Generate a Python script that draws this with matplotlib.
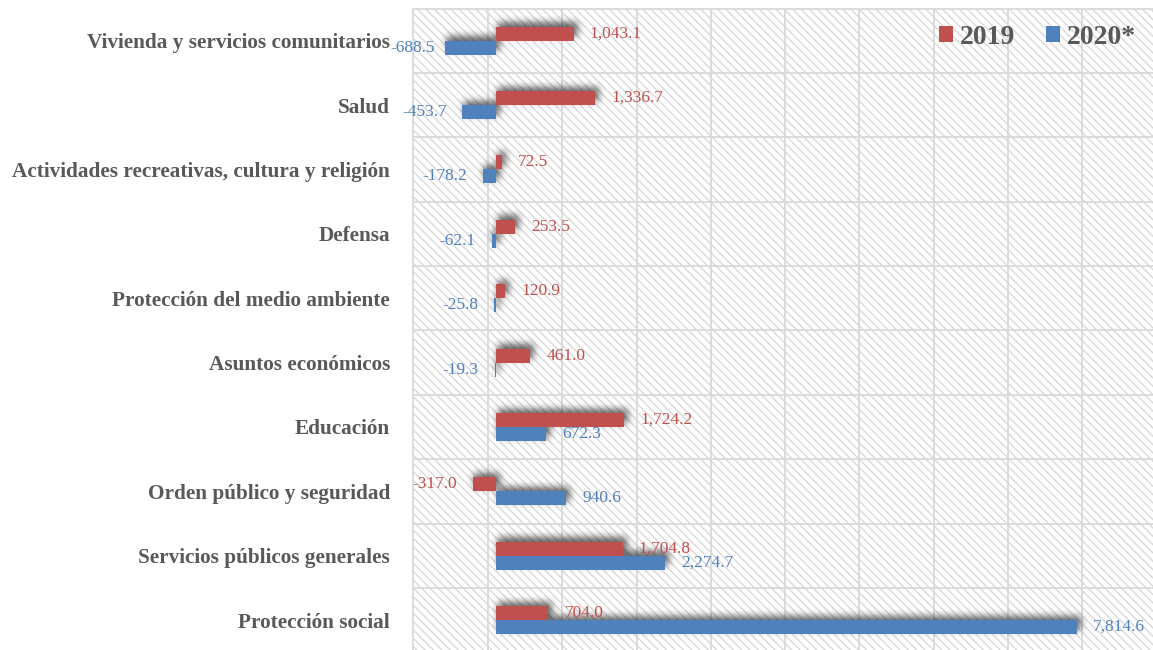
import matplotlib
matplotlib.use("Agg")
import matplotlib.pyplot as plt
from matplotlib.patches import Rectangle
import numpy as np

categories = ["Vivienda y servicios comunitarios", "Salud",
              "Actividades recreativas, cultura y religión", "Defensa",
              "Protección del medio ambiente", "Asuntos económicos",
              "Educación", "Orden público y seguridad",
              "Servicios públicos generales", "Protección social"]
v2019 = [1043.1, 1336.7, 72.5, 253.5, 120.9, 461.0, 1724.2, -317.0, 1704.8, 704.0]
v2020 = [-688.5, -453.7, -178.2, -62.1, -25.8, -19.3, 672.3, 940.6, 2274.7, 7814.6]
series_names = ["2019", "2020*"]

RED = "#C0504D"
BLUE = "#4F81BD"
GRID = "#D9D9D9"
TXT = "#595959"

plt.rcParams['font.family'] = ['Liberation Serif', 'DejaVu Serif']
plt.rcParams['hatch.linewidth'] = 1.0

W, H = 1153, 650
fig = plt.figure(figsize=(W / 100, H / 100), dpi=100)
left_px, right_px, top_px, bot_px = 413, 1165, 8.5, 652.3
ax = fig.add_axes([left_px / W, 1 - bot_px / H, (right_px - left_px) / W, (bot_px - top_px) / H])

xmin, xmax = -1120, 9003
n = len(categories)
ax.set_xlim(xmin, xmax)
ax.set_ylim(-0.5, n - 0.5)

# hatched background
bg = Rectangle((0, 0), 1, 1, transform=ax.transAxes, facecolor="white",
               edgecolor="#D9D9D9", hatch="\\\\\\\\", linewidth=0, zorder=0)
ax.add_patch(bg)

# grid
for k in range(0, 10):
    ax.axvline(-110 + 1000 * k, color=GRID, lw=1.3, zorder=1)
for b in np.arange(0.5, n - 0.5, 1.0):
    ax.axhline(b, color=GRID, lw=1.3, zorder=1)

for s in ["right", "bottom"]:
    ax.spines[s].set_visible(False)
for s in ["top", "left"]:
    ax.spines[s].set_color(GRID)
    ax.spines[s].set_linewidth(1.3)

ypos = np.arange(n)[::-1]  # top category first
bh = 0.218

# soft blurred shadow image (pixel grid of the axes)
AW = int(round(right_px - left_px))
AH = int(round(bot_px - top_px))
px_x = (xmax - xmin) / AW
px_y = n / AH
mask = np.zeros((AH, AW))

def add_shadow(v, yc):
    lo, hi = min(0, v), max(0, v)
    x0 = (lo - xmin) / px_x + 1.5
    x1 = (hi - xmin) / px_x + 4.0
    ytop = ((n - 0.5) - (yc + bh / 2)) / px_y - 4.0
    ybot = ((n - 0.5) - (yc - bh / 2)) / px_y - 4.0
    xi0, xi1 = int(round(x0)), int(round(x1))
    yi0, yi1 = int(round(ytop)), int(round(ybot))
    if xi1 <= xi0:
        xi1 = xi0 + 1
    mask[max(yi0, 0):max(yi1, 0), max(xi0, 0):max(xi1, 0)] = 1.0

for i in range(n):
    add_shadow(v2019[i], ypos[i] + bh / 2)
    add_shadow(v2020[i], ypos[i] - bh / 2)

sig = 3.6
r = np.arange(-12, 13)
kern = np.exp(-r ** 2 / (2 * sig ** 2))
kern /= kern.sum()
blur = np.apply_along_axis(lambda m: np.convolve(m, kern, mode="same"), 1, mask)
blur = np.apply_along_axis(lambda m: np.convolve(m, kern, mode="same"), 0, blur)
rgba = np.zeros((AH, AW, 4))
rgba[..., 3] = np.clip(blur * 0.6, 0, 1)
ax.imshow(rgba, extent=(xmin, xmax, -0.5, n - 0.5), origin="upper",
          aspect="auto", interpolation="bilinear", zorder=2)

b1 = ax.barh(ypos + bh / 2, v2019, height=bh, color=RED, zorder=3, label=series_names[0])
b2 = ax.barh(ypos - bh / 2, v2020, height=bh, color=BLUE, zorder=3, label=series_names[1])

off = 11.5
for vals, yy, col in [(v2019, ypos + bh / 2, RED), (v2020, ypos - bh / 2, BLUE)]:
    for v, y in zip(vals, yy):
        if v >= 0:
            dx, ha = off, "left"
        else:
            # labels that would spill far past the plot's left edge sit closer to the bar
            bar_end_px = (v - xmin) / px_x
            dx = -7.0 if bar_end_px < 45 else -off
            ha = "right"
        ax.annotate(f"{v:,.1f}", (v, y), xytext=(dx, 0),
                    textcoords="offset points", ha=ha,
                    va="center", color=col, fontsize=12.5, zorder=5)

ax.set_yticks(ypos)
ax.set_yticklabels(categories, fontsize=15.3, fontweight="bold", color=TXT)
ax.tick_params(axis="y", length=0, pad=16.5)
ax.set_xticks([])

leg = ax.legend(handles=[b1, b2], loc="upper right", frameon=False,
                bbox_to_anchor=(1161 / W, 1.0), bbox_transform=fig.transFigure,
                ncol=2, prop={"family": "Liberation Serif", "weight": "bold", "size": 20},
                handlelength=0.5, handleheight=0.5, handletextpad=0.25, columnspacing=1.1)
for t in leg.get_texts():
    t.set_color(TXT)
leg.set_zorder(6)

fig.savefig("out.png", dpi=100)
